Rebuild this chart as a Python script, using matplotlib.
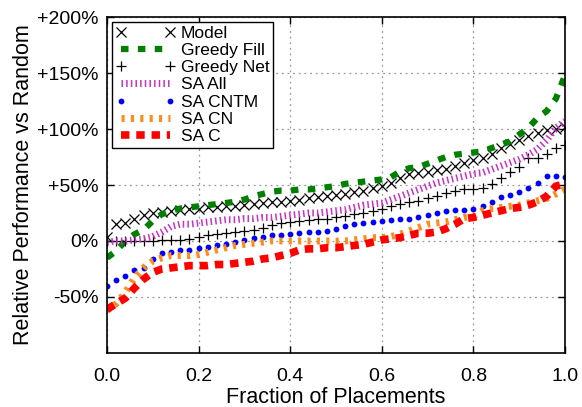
import numpy as np
import matplotlib
matplotlib.use("Agg")
import matplotlib.pyplot as plt

plt.rcParams['font.family'] = ['Liberation Sans', 'DejaVu Sans']

fraction = [i / 50 for i in range(51)]

model = [4, 15, 16, 20, 23, 25, 26, 27, 28, 29, 29, 30, 30, 31, 31, 32, 33, 34, 35, 35,
         36, 37, 38, 39, 40, 41, 42, 44, 45, 47, 49, 52, 56, 60, 61, 62, 63, 64, 67, 70,
         72, 74, 78, 83, 87, 90, 94, 96, 99, 100, 102]
greedy_fill = [-15, -9, 0, 6, 10, 18, 24, 27, 29, 30, 31, 32, 33, 34, 35, 37, 40, 42, 44, 45,
               45, 46, 46, 47, 48, 49, 51, 52, 53, 54, 55, 57, 62, 65, 66, 69, 72, 75, 77, 78,
               79, 80, 83, 86, 89, 95, 101, 110, 116, 127, 148]
greedy_net = [0, 0, 0, 0, 0, 0, 1, 1, 1, 2, 4, 5, 6, 7, 8, 9, 10, 12, 14, 16,
              17, 18, 19, 20, 20, 21, 22, 24, 25, 27, 29, 31, 33, 35, 36, 38, 40, 43, 45, 46,
              46, 47, 51, 56, 62, 66, 74, 74, 78, 83, 86]
sa_all = [-1, 0, 0, 1, 2, 4, 8, 13, 15, 15, 16, 17, 18, 19, 19, 20, 20, 21, 21, 22,
          23, 24, 25, 25, 26, 27, 28, 30, 32, 33, 34, 37, 40, 43, 46, 49, 52, 54, 56, 58,
          60, 61, 64, 67, 70, 73, 77, 82, 90, 101, 107]
sa_cntm = [-40, -35, -31, -26, -24, -16, -11, -10, -8, -8, -6, -5, -4, -3, -1, 1, 3, 4, 5, 5,
           6, 7, 8, 8, 9, 11, 13, 15, 16, 17, 18, 19, 20, 20, 21, 23, 25, 27, 28, 28,
           29, 31, 35, 39, 41, 44, 47, 52, 58, 58, 57]
sa_cn = [-62, -56, -46, -33, -24, -18, -15, -13, -13, -13, -12, -10, -8, -6, -4, -3, -2, -1, 0, 0,
         0, 0, 0, 0, 0, 0, 0, 1, 2, 3, 3, 4, 6, 9, 12, 15, 16, 17, 19, 21,
         22, 27, 29, 30, 31, 32, 34, 36, 38, 42, 46]
sa_c = [-61, -56, -51, -42, -34, -28, -25, -24, -23, -22, -22, -22, -21, -21, -20, -19, -18, -16, -15, -13,
        -11, -8, -7, -7, -6, -6, -5, -4, -3, -1, 1, 2, 3, 5, 7, 7, 8, 11, 15, 20,
        21, 23, 25, 27, 29, 30, 32, 35, 40, 49, 51]

x_ticks = [0.0, 0.2, 0.4, 0.6, 0.8, 1.0]
x_tick_labels = ["0.0", "0.2", "0.4", "0.6", "0.8", "1.0"]
y_ticks = [-50, 0, 50, 100, 150, 200]
y_tick_labels = ["-50%", "0%", "+50%", "+100%", "+150%", "+200%"]

fig = plt.figure(figsize=(5.82, 4.07), dpi=100)
ax = fig.add_axes([0.1838, 0.1327, 0.787, 0.8255])

ax.plot(fraction, model, linestyle='none', marker='x', color='black', ms=6.5, mew=0.9, label='Model')
ax.plot(fraction, greedy_fill, color='#008000', lw=4.5, linestyle=(0, (1.2, 1.5)),
        dash_capstyle='butt', label='Greedy Fill')
ax.plot(fraction, greedy_net, linestyle='none', marker='+', color='black', ms=7, mew=0.9, label='Greedy Net')
ax.plot(fraction, sa_all, color='#c832c8', lw=5, linestyle=(0, (0.22, 0.45)),
        dash_capstyle='butt', label='SA All')
ax.plot(fraction, sa_cntm, linestyle='none', marker='o', color='#0000ff', ms=4.2, mew=0, label='SA CNTM')
ax.plot(fraction, sa_cn, color='#ff8c1a', lw=5, linestyle=(0, (0.45, 0.9)),
        dash_capstyle='butt', label='SA CN')
ax.plot(fraction, sa_c, color='#ff0000', lw=5.5, linestyle=(0, (1.1, 0.9)),
        dash_capstyle='butt', label='SA C')

ax.set_xlim(0, 1)
ax.set_ylim(-100, 200)
ax.set_xticks(x_ticks)
ax.set_xticklabels(x_tick_labels)
ax.set_yticks(y_ticks)
ax.set_yticklabels(y_tick_labels)
ax.tick_params(direction='in', length=5, width=1, labelsize=14, top=True, right=True)
ax.tick_params(axis='x', pad=11)
ax.tick_params(axis='y', pad=6)
ax.grid(True, color='#999999', linestyle=(0, (1.5, 3)), linewidth=0.9)
for s in ax.spines.values():
    s.set_linewidth(1.2)

ax.set_xlabel('Fraction of Placements', fontsize=15.5, labelpad=1)
ax.set_ylabel('Relative Performance vs Random', fontsize=15.5, labelpad=2)

leg = ax.legend(loc='upper left', bbox_to_anchor=(0.012, 0.985), fontsize=12.5, frameon=True,
                fancybox=False, edgecolor='black', framealpha=1, borderpad=0.2,
                labelspacing=0.12, handlelength=3.4, handletextpad=0.35, borderaxespad=0.0,
                numpoints=2)
leg.get_frame().set_linewidth(1.0)

fig.savefig('out.png', dpi=100)
